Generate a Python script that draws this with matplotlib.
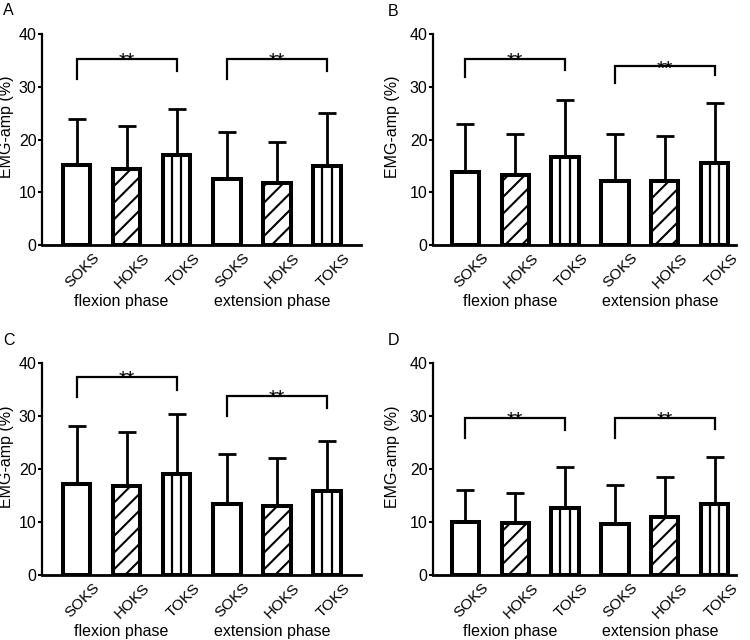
import matplotlib
matplotlib.use("Agg")
import matplotlib.pyplot as plt
import numpy as np

plt.rcParams['font.family'] = ['Liberation Sans', 'DejaVu Sans']
plt.rcParams['hatch.linewidth'] = 1.5

categories = ["SOKS", "HOKS", "TOKS", "SOKS", "HOKS", "TOKS"]
phases = ["flexion phase", "extension phase"]
ylabel = "EMG-amp (%)"
panel_letters = ["A", "B", "C", "D"]

# means and upper error (mean + SD) for each panel
means_A = [15.2, 14.5, 17.0, 12.6, 11.7, 15.0]
upper_A = [23.8, 22.5, 25.7, 21.4, 19.5, 25.1]
means_B = [13.8, 13.2, 16.7, 12.1, 12.1, 15.5]
upper_B = [22.9, 21.1, 27.5, 21.0, 20.7, 27.0]
means_C = [17.2, 16.7, 19.1, 13.4, 13.1, 15.8]
upper_C = [28.2, 26.9, 30.4, 22.8, 22.0, 25.2]
means_D = [10.0, 9.8, 12.6, 9.7, 11.0, 13.4]
upper_D = [16.1, 15.5, 20.3, 16.9, 18.4, 22.2]

# significance brackets: (top, left leg end, right leg end) for flexion and extension
brackets_A = [(35.3, 31.5, 33.0), (35.3, 31.4, 33.0)]
brackets_B = [(35.3, 31.8, 33.1), (33.9, 30.8, 32.2)]
brackets_C = [(37.4, 33.6, 35.0), (33.8, 30.0, 31.5)]
brackets_D = [(29.7, 25.9, 27.4), (29.7, 25.9, 27.6)]
sig_label = "**"

panels = [
    (means_A, upper_A, brackets_A),
    (means_B, upper_B, brackets_B),
    (means_C, upper_C, brackets_C),
    (means_D, upper_D, brackets_D),
]

W, H = 750, 640
fig = plt.figure(figsize=(7.5, 6.4), dpi=100)

# axes rectangles in pixels: left, right, top(y=40), bottom(y=0)
rects = [
    (42, 361, 34, 245),
    (433, 736, 34, 245),
    (42, 361, 363, 575),
    (433, 736, 363, 575),
]
xlims = [(-0.69, 5.68), (-0.65, 5.43), (-0.69, 5.68), (-0.65, 5.43)]
letter_pos = [(3, 3), (388, 4), (3, 333), (388, 333)]
ylabel_x = [-0.088, -0.109, -0.088, -0.109]

bar_w = 0.55
hatches = ["", "//", ""]

for i, ((means, upper, brs), (l, r, t, b)) in enumerate(zip(panels, rects)):
    ax = fig.add_axes([l / W, 1 - b / H, (r - l) / W, (b - t) / H])
    x = np.arange(len(categories))
    for j, (xi, m) in enumerate(zip(x, means)):
        ax.bar(xi, m, width=bar_w, facecolor='white', edgecolor='black',
               linewidth=2.9, hatch=hatches[j % 3], zorder=3)
        if j % 3 == 2:
            ax.vlines([xi - bar_w / 6, xi + bar_w / 6], 0, m, color='black',
                      linewidth=1.6, zorder=3.5)
    err = np.array(upper) - np.array(means)
    ax.errorbar(x, means, yerr=[np.zeros_like(err), err], fmt='none',
                ecolor='black', elinewidth=2.0, capsize=6.8, capthick=2.0,
                zorder=2)
    for k, (top, ll, rl) in enumerate(brs):
        x0, x1 = x[3 * k], x[3 * k + 2]
        ax.plot([x0, x0, x1, x1], [ll, top, top, rl], color='black',
                linewidth=1.6, solid_joinstyle='miter', zorder=4)
        ax.annotate(sig_label, xy=((x0 + x1) / 2, top), xytext=(0, -6.0),
                    textcoords='offset points', ha='center', va='baseline',
                    fontsize=15)
    ax.set_xlim(*xlims[i])
    ax.set_ylim(0, 40)
    ax.set_yticks([0, 10, 20, 30, 40])
    ax.set_xticks([])
    ax.tick_params(axis='y', length=3, width=1.5, pad=1, labelsize=11.5)
    for s in ['top', 'right']:
        ax.spines[s].set_visible(False)
    ax.spines['left'].set_linewidth(1.6)
    ax.spines['bottom'].set_linewidth(2.0)
    ax.set_ylabel(ylabel, fontsize=11.5, labelpad=0)
    ax.yaxis.set_label_coords(ylabel_x[i], 0.56)
    for xi, c in zip(x, categories):
        ax.annotate(c, xy=(xi, 0), xytext=(11.5, -4), textcoords='offset points',
                    rotation=45, ha='right', va='top', rotation_mode='anchor',
                    fontsize=11)
    for k, ph in enumerate(phases):
        ax.annotate(ph, xy=(x[3 * k + 1] - 0.1, 0), xytext=(0, -41),
                    textcoords='offset points', ha='center', va='center',
                    fontsize=11.5)
    lx, ly = letter_pos[i]
    fig.text(lx / W, 1 - ly / H, panel_letters[i], ha='left', va='top',
             fontsize=11.5)

fig.savefig("out.png", dpi=100)
